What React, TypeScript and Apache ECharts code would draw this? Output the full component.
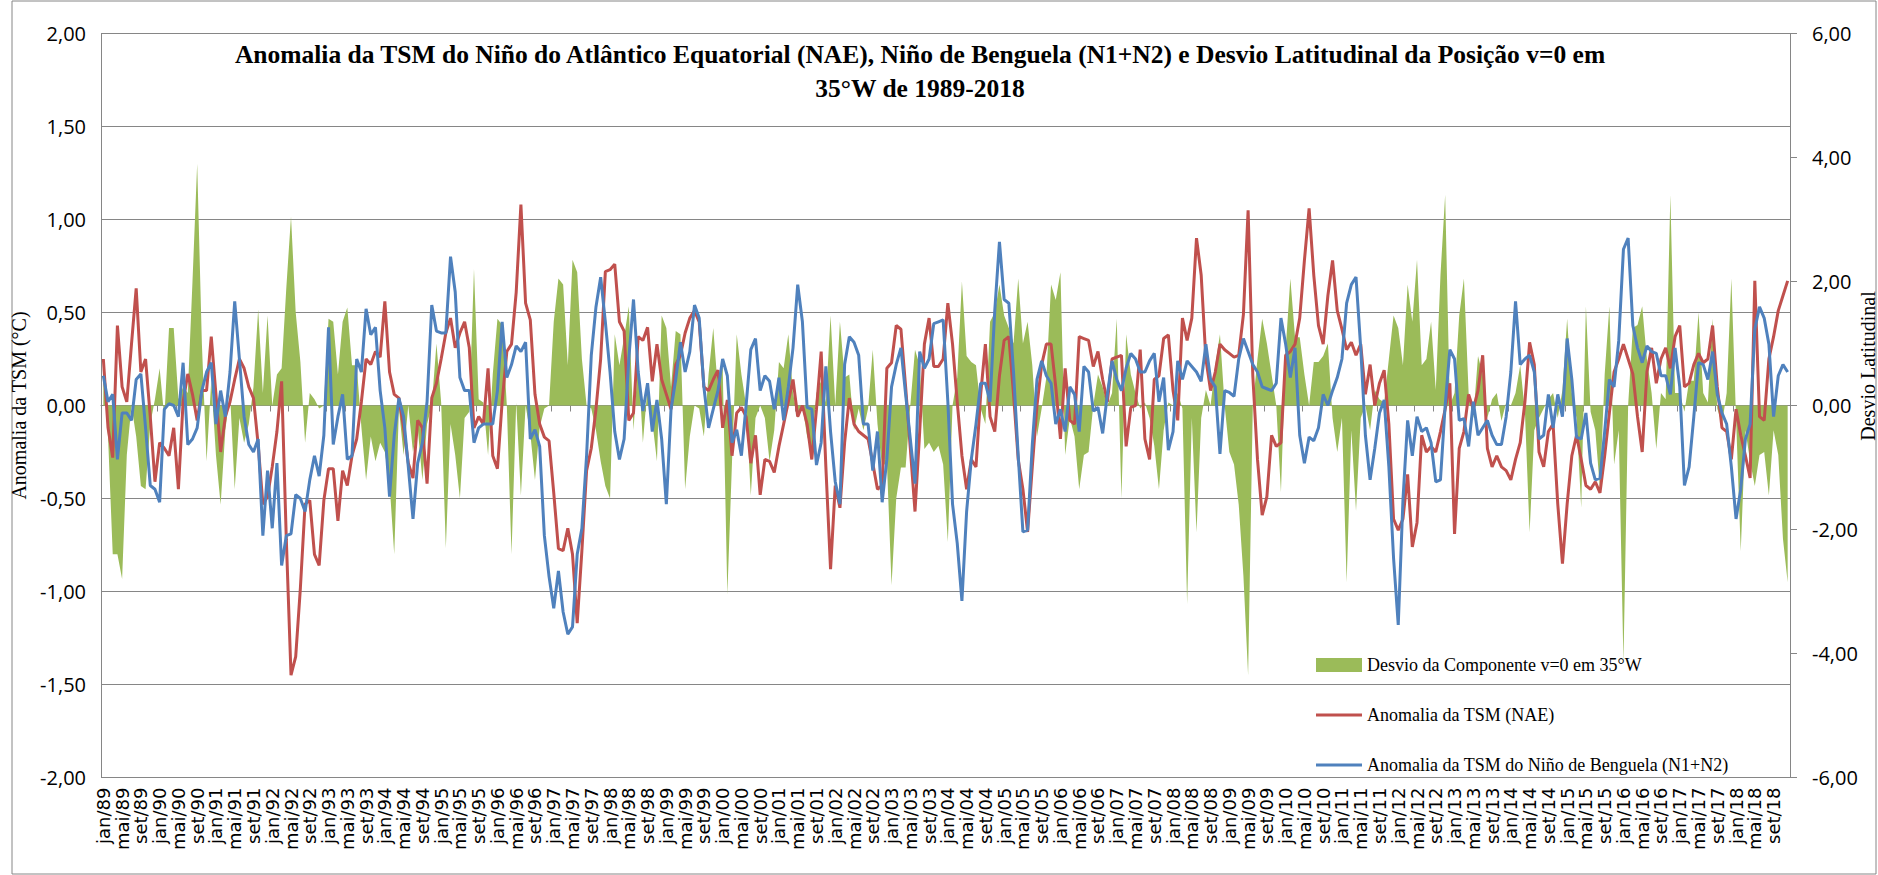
import React, { useEffect, useRef } from "react";
import * as echarts from "echarts";

const MONTHS = ["jan", "fev", "mar", "abr", "mai", "jun", "jul", "ago", "set", "out", "nov", "dez"];
const FIRST_YEAR = 1989;
const LAST_YEAR = 2018;

const CATEGORIES: string[] = [];
for (let y = FIRST_YEAR; y <= LAST_YEAR; y++) {
  for (const m of MONTHS) CATEGORIES.push(m + "/" + String(y % 100).padStart(2, "0"));
}

const TITLE_LINES = [
  "Anomalia da TSM do Niño do Atlântico Equatorial (NAE), Niño de Benguela (N1+N2) e Desvio Latitudinal da Posição v=0 em",
  "35°W de 1989-2018",
];

const LEFT_AXIS_NAME = "Anomalia da TSM (°C)";
const RIGHT_AXIS_NAME = "Desvio Latitudinal";

const SERIES_NAMES = [
  "Desvio da Componente v=0 em 35°W",
  "Anomalia da TSM (NAE)",
  "Anomalia da TSM do Niño de Benguela (N1+N2)",
];

// Anomalia da TSM (NAE) - left axis, °C
const NAE = [
  0.25, -0.12, -0.28, 0.43, 0.10, 0.02, 0.33, 0.63, 0.18, 0.25,
  -0.06, -0.41, -0.20, -0.23, -0.27, -0.12, -0.45, 0.02, 0.17, 0.06,
  -0.08, 0.08, 0.08, 0.37, 0.06, -0.25, -0.06, 0.02, 0.14, 0.25,
  0.20, 0.10, 0.04, -0.21, -0.53, -0.49, -0.33, -0.14, 0.13, -0.72,
  -1.45, -1.35,
  -0.98, -0.53, -0.51, -0.80, -0.86, -0.51, -0.34, -0.34, -0.62, -0.35,
  -0.43, -0.27, -0.18, 0.02, 0.25, 0.22, 0.29, 0.26, 0.56, 0.18,
  0.06, 0.04, -0.12, -0.31, -0.39, -0.08, -0.12, -0.42, 0.04, 0.12,
  0.25, 0.39, 0.47, 0.31, 0.39, 0.45, 0.31, -0.12, -0.06, -0.10,
  0.20,
  -0.27, -0.34, 0.02, 0.29, 0.33, 0.61, 1.08, 0.55, 0.46, 0.06,
  -0.10, -0.17, -0.19, -0.47, -0.77, -0.78, -0.66, -0.80, -1.17, -0.78,
  -0.35, -0.23, -0.02, 0.25, 0.72, 0.73, 0.76, 0.45, 0.40, -0.08,
  -0.04, 0.37, 0.35, 0.42, 0.13, 0.33, 0.14, 0.06, -0.02, 0.22,
  0.27, 0.39, 0.47, 0.51, 0.45, 0.10, 0.08, 0.14, 0.19, -0.12,
  0.03, -0.27, -0.04, -0.01, -0.06, -0.31, -0.16, -0.48, -0.29, -0.30,
  -0.36, -0.22, -0.10, 0.02, 0.14, -0.06, 0.00, -0.10, -0.29, -0.02,
  0.29, -0.33, -0.88, -0.43, -0.55, -0.20, 0.04, -0.10, -0.14,
  -0.16, -0.18, -0.31, -0.45, -0.43, 0.20, 0.23, 0.43, 0.41, 0.10,
  -0.23, -0.57, -0.14, 0.33, 0.47, 0.21, 0.21, 0.25, 0.55, 0.33,
  0.02, -0.27, -0.45, -0.29, -0.33, 0.06, 0.33, -0.06, -0.14, 0.16,
  0.35, 0.37, 0.06, -0.29, -0.45, -0.68, -0.33, 0.00, 0.22, 0.33,
  0.33, 0.10, -0.18, 0.20, -0.08, -0.10, 0.37, 0.36, 0.35, 0.21,
  0.29, 0.14, 0.02, 0.25, 0.26, 0.27, -0.22, -0.01, 0.00, 0.30,
  -0.18, -0.29, 0.14, 0.16, 0.36, 0.38, 0.08, -0.08, 0.47, 0.35,
  0.47, 0.90, 0.70, 0.25, 0.08, 0.18, 0.33, 0.30, 0.28, 0.26, 0.27,
  0.49, 1.05, 0.16, -0.29, -0.59, -0.49, -0.16, -0.22, -0.20, 0.27,
  0.29, 0.33, 0.47, 0.78, 1.06, 0.70, 0.43, 0.33, 0.59, 0.78,
  0.51, 0.41, 0.30, 0.34, 0.27, 0.33, 0.06, 0.22, 0.00, 0.12,
  0.19, -0.10, -0.61, -0.67, -0.61, -0.37, -0.76, -0.63, -0.16, -0.25,
  -0.22, -0.25, -0.14, -0.02, 0.12, -0.69, -0.23, -0.14, 0.06, -0.02,
  0.08, 0.27, -0.23, -0.33, -0.27, -0.33, -0.35, -0.40, -0.29, -0.20,
  0.02, 0.34, 0.22, -0.25, -0.33, -0.14, -0.10, -0.53, -0.85, -0.53,
  -0.27, -0.16, -0.29, -0.43, -0.45, -0.41, -0.47, -0.27, -0.04, 0.18, 0.25,
  0.33, 0.25, 0.17, -0.06, -0.25, 0.18, 0.31, 0.12, 0.25, 0.31,
  0.20, 0.37, 0.43, 0.10, 0.12, 0.22, 0.28, 0.23, 0.25, 0.43,
  0.10, -0.12, -0.14, -0.29, -0.02, -0.16, -0.27, -0.39, 0.67, -0.06,
  -0.08, 0.25, 0.37, 0.51, 0.59, 0.67,
];

// Anomalia da TSM do Niño de Benguela (N1+N2) - left axis, °C
const BENGUELA = [
  0.16, 0.02, 0.06, -0.29, -0.04, -0.04, -0.08, 0.14, 0.17, -0.12,
  -0.43, -0.45, -0.52, -0.02, 0.01, 0.00, -0.06, 0.23, -0.21, -0.18,
  -0.12, 0.08, 0.18, 0.23, -0.10, 0.08, -0.06, 0.18, 0.56, 0.25,
  -0.06, -0.21, -0.25, -0.18, -0.70, -0.35, -0.66, -0.31, -0.86, -0.70,
  -0.69, -0.48,
  -0.50, -0.57, -0.40, -0.27, -0.38, -0.16, 0.42, -0.21, -0.06, 0.06,
  -0.29, -0.27, 0.25, 0.18, 0.52, 0.38, 0.42, 0.08, -0.12, -0.49,
  -0.16, 0.04, -0.06, -0.33, -0.61, -0.31, -0.20, 0.02, 0.54, 0.40,
  0.39, 0.39, 0.80, 0.61, 0.15, 0.08, 0.08, -0.20, -0.12, -0.10,
  -0.10,
  -0.10, 0.08, 0.45, 0.15, 0.22, 0.32, 0.29, 0.34, -0.18, -0.13,
  -0.22, -0.70, -0.92, -1.09, -0.89, -1.11, -1.23, -1.19, -0.80, -0.66,
  -0.27, 0.27, 0.53, 0.69, 0.45, 0.18, -0.14, -0.29, -0.18, 0.25,
  0.57, 0.18, -0.03, 0.12, -0.14, 0.03, -0.18, -0.53, -0.02, 0.14,
  0.34, 0.18, 0.29, 0.54, 0.47, 0.10, -0.12, -0.02, 0.08, 0.25,
  0.16, -0.20, -0.13, -0.27, 0.00, 0.30, 0.36, 0.08, 0.16, 0.13,
  -0.02, 0.15, -0.08, 0.10, 0.31, 0.65, 0.45, -0.01, -0.02, -0.32,
  -0.20, 0.21, -0.14, -0.41, -0.53, 0.22, 0.37, 0.34, 0.27,
  -0.10, -0.10, -0.35, -0.14, -0.52, -0.29, 0.10, 0.22, 0.31, 0.06,
  -0.18, -0.42, 0.29, 0.20, 0.25, 0.44, 0.45, 0.46, 0.02, -0.53,
  -0.74, -1.05, -0.57, -0.29, -0.10, 0.12, 0.12, 0.02, 0.51, 0.88,
  0.57, 0.55, 0.18, -0.27, -0.68, -0.67, -0.21, 0.14, 0.24, 0.16,
  0.12, -0.10, -0.02, -0.14, 0.10, 0.06, -0.14, 0.21, 0.18, -0.03,
  -0.01, -0.15, 0.06, 0.24, 0.14, 0.08, 0.20, 0.28, 0.25, 0.18,
  0.18, 0.24, 0.28, 0.02, 0.15, -0.24, -0.14, 0.24, 0.14, 0.24,
  0.21, 0.18, 0.13, 0.33, 0.14, 0.10, -0.26, 0.08, 0.07, 0.05,
  0.25,
  0.36, 0.29, 0.22, 0.18, 0.10, 0.09, 0.08, 0.12, 0.47, 0.33,
  0.15, 0.31, -0.16, -0.31, -0.17, -0.19, -0.12, 0.06, 0.00, 0.08,
  0.15, 0.25, 0.55, 0.65, 0.69, 0.31, -0.16, -0.40, -0.23, -0.04,
  0.03, -0.33, -0.82, -1.18, -0.51, -0.08, -0.27, -0.06, -0.14, -0.12,
  -0.20, -0.41, -0.40, 0.00, 0.30, 0.25, -0.08, -0.07, -0.22, 0.02,
  -0.16, -0.12, -0.08, -0.16, -0.21, -0.21, -0.06, 0.18, 0.56, 0.22,
  0.25, 0.27, 0.18, -0.18, -0.16, 0.06, -0.12, 0.06, -0.06, 0.36,
  0.14, -0.17, -0.18, -0.04, -0.31, -0.40, -0.39, -0.14, 0.14, 0.10,
  0.35,
  0.84, 0.90, 0.43, 0.31, 0.23, 0.32, 0.29, 0.28, 0.16, 0.16,
  0.06, 0.31, 0.10, -0.43, -0.33, -0.06, 0.23, 0.22, 0.14, 0.29,
  0.06, -0.04, -0.10, -0.33, -0.61, -0.45, -0.18, -0.10, 0.41, 0.53,
  0.47, 0.33, -0.06, 0.16, 0.22, 0.18,
];

// Desvio latitudinal da componente v=0 em 35°W - right axis
const DESVIO = [
  0.6, -0.5, -2.4, -2.4, -2.8, -0.8, 0.0, -0.5, -1.3, -1.35,
  -0.3, 0.1, 0.6, -0.2, 1.25, 1.25, 0.1, 0.3, 0.2, 2.0,
  3.9, 1.0, -0.9, 0.4, -0.8, -1.6, -0.4, 0.2, -1.35, -0.2,
  -0.6, -0.3, 0.3, 1.55, 0.2, 1.45, 0.0, 0.5, 0.6, 1.9,
  3.05, 1.5,
  0.7, -0.6, 0.2, 0.1, -0.05, 0.0, 1.4, 1.35, 0.5, 1.35,
  1.58, 0.65, 0.65, -0.35, -1.2, -0.5, -0.9, -0.6, -0.75, -1.25,
  -2.4, -0.05, -0.8, 0.0, -0.75, -0.35, -1.2, -0.3, 0.0, 1.0,
  0.05, -2.3, -0.3, -0.8, -1.5, -0.2, -0.1, 2.2, 0.1, 0.05,
  -0.8,
  0.5, 1.4, 1.3, 0.0, -2.4, 0.05, -1.45, 0.0, -0.45, -1.2,
  -0.35, -0.05, 0.0, 1.35, 2.05, 1.95, 0.65, 2.35, 2.15, 0.75,
  0.0, -0.05, -0.4, -0.9, -1.3, -1.5, 1.15, 0.65, 1.1, 1.6,
  -0.4, 0.75, -0.6, 0.3, -0.25, -0.9, 1.45, 1.25, 0.3, 1.2,
  1.15, -1.35, -0.5, 0.0, -0.05, -0.5, 0.5, 1.25, 0.25, 0.65,
  -3.05, -0.9, 1.15, 0.5, 0.0, -1.45, -0.2, 0.0, -0.2, -0.9,
  -0.4, 0.7, 0.6, 1.15, 0.2, -0.2, 0.0, -0.5, -0.7, 0.2,
  0.4, 0.05, 1.45, 0.0, 1.35, 0.45, 0.5, -0.4, -0.05,
  -0.4, -0.05, 0.9, -0.3, -1.0, -0.9, -2.9, -1.5, -1.0, -1.0,
  0.0, 0.9, 0.65, -0.7, -0.6, -0.75, -0.65, -0.95, -2.2, 0.0,
  0.45, 2.0, 0.8, 0.7, 0.65, -0.05, -0.3, 1.35, 1.5, 1.95,
  1.45, 1.25, 1.0, 2.05, 1.0, 1.35, 0.65, -0.5, -0.05, 0.45,
  1.95, 1.7, 2.15, -0.8, -0.2, -0.5, -1.35, -0.8, -0.75, 0.0,
  0.5, 0.3, 0.0, 0.2, 1.4, -1.5, 1.15, 0.5, 0.2, -0.05,
  0.05, -0.2, -0.65, -1.35, -0.4, 0.05, 0.0, 0.2, -0.05, -3.2,
  -0.2, -2.05, -0.2, 0.25, 0.0, 0.65, 1.15, 0.0, -0.75, -0.95,
  -1.6,
  -2.75, -4.35, 0.0, 0.75, 1.4, 1.0, 0.5, 0.0, -1.4, 0.9,
  2.05, 1.1, 1.1, 0.5, 0.0, 0.7, 0.7, 0.8, 1.0, -0.2,
  -0.75, -0.2, -2.85, -0.4, -1.7, -0.2, 0.0, -0.4, 0.25, 0.1,
  0.05, 0.75, 1.45, 1.25, 0.65, 1.95, 1.35, 2.35, 0.65, 0.75,
  1.35, 0.25, 2.1, 3.4, 0.0, 0.2, 1.45, 2.05, 0.2, -0.2,
  0.8, 0.5, -0.2, 0.1, 0.2, -0.25, 0.05, 0.0, 0.2, 0.65,
  -0.1, -2.05, -0.4, -0.2, -0.05, 0.1, 0.2, -0.2, 0.25, 1.4,
  0.2, -0.2, -1.65, 1.6, -0.1, -0.4, -1.35, 0.5, 1.6, -0.95,
  -0.4,
  -4.15, 0.0, 1.25, 1.3, 1.6, 0.75, 0.2, -0.7, 0.2, 0.1,
  3.4, 0.2, 0.2, -0.1, 0.4, 0.4, 1.5, 0.2, 0.05, 1.4,
  -0.05, -0.3, 0.2, 2.05, -0.2, -2.35, -0.4, -0.9, -1.3, -0.8,
  -0.75, -1.45, -0.4, -0.8, -2.15, -2.85,
];

const GREEN = "#9BBB59";
const RED = "#C0504D";
const BLUE = "#4F81BD";
const AXIS_GRAY = "#868686";
const LINE_ICON = "path://M0,0L0.01,0M0,5.5H46V8.5H0ZM46,14L45.99,14";

const fmt = (v: number) => v.toFixed(2).replace(".", ",");

export default function App() {
  const ref = useRef<HTMLDivElement>(null);

  useEffect(() => {
    if (!ref.current) return;
    const chart = echarts.init(ref.current, undefined, { renderer: "svg" });
    const option: any = {
      animation: false,
      backgroundColor: "#ffffff",
      grid: { left: 101, right: 88, top: 33.5, bottom: 97.5, containLabel: false },
      graphic: [
        {
          type: "rect",
          shape: { x: 12, y: 1, width: 1864, height: 873 },
          style: { fill: "none", stroke: AXIS_GRAY, lineWidth: 1 },
          silent: true,
          z: -10,
        },
        {
          type: "text",
          x: 920,
          y: 54,
          style: {
            text: TITLE_LINES[0],
            textAlign: "center",
            textVerticalAlign: "middle",
            fontFamily: "Liberation Serif",
            fontWeight: "bold",
            fontSize: 25.5,
            fill: "#000",
          },
        },
        {
          type: "text",
          x: 920,
          y: 88,
          style: {
            text: TITLE_LINES[1],
            textAlign: "center",
            textVerticalAlign: "middle",
            fontFamily: "Liberation Serif",
            fontWeight: "bold",
            fontSize: 25.5,
            fill: "#000",
          },
        },
        {
          type: "text",
          x: 1868,
          y: 366,
          rotation: Math.PI / 2,
          style: {
            text: RIGHT_AXIS_NAME,
            textAlign: "center",
            textVerticalAlign: "middle",
            fontFamily: "Liberation Serif",
            fontSize: 20,
            fill: "#000",
          },
        },
      ],
      legend: {
        orient: "vertical",
        left: 1311,
        top: 650,
        itemWidth: 46,
        itemHeight: 14,
        itemGap: 30,
        data: [
          { name: SERIES_NAMES[0], icon: "rect" },
          { name: SERIES_NAMES[1], icon: LINE_ICON },
          { name: SERIES_NAMES[2], icon: LINE_ICON },
        ],
        textStyle: { fontFamily: "Liberation Serif", fontSize: 18, color: "#000", lineHeight: 20 },
      },
      xAxis: {
        type: "category",
        data: CATEGORIES,
        boundaryGap: true,
        axisLine: { show: true, lineStyle: { color: AXIS_GRAY, width: 1 } },
        axisTick: { show: true, interval: 3, length: 6, lineStyle: { color: AXIS_GRAY } },
        axisLabel: {
          interval: 3,
          rotate: 90,
          margin: 10,
          showMinLabel: true,
          hideOverlap: false,
          fontFamily: "DejaVu Sans",
          fontSize: 18,
          lineHeight: 14,
          color: "#000",
        },
        splitLine: { show: false },
      },
      yAxis: [
        {
          type: "value",
          min: -2,
          max: 2,
          interval: 0.5,
          position: "left",
          name: LEFT_AXIS_NAME,
          nameLocation: "middle",
          nameRotate: 90,
          nameGap: 70,
          nameTextStyle: { fontFamily: "Liberation Serif", fontSize: 20, color: "#000" },
          axisLine: { show: true, lineStyle: { color: AXIS_GRAY } },
          axisTick: { show: false },
          axisLabel: { formatter: fmt, margin: 15, fontFamily: "Open Sans", fontSize: 20, color: "#000" },
          splitLine: { show: true, lineStyle: { color: AXIS_GRAY, width: 1 } },
        },
        {
          type: "value",
          min: -6,
          max: 6,
          interval: 2,
          position: "right",
          axisLine: { show: true, lineStyle: { color: AXIS_GRAY } },
          axisTick: { show: true, length: 7, lineStyle: { color: AXIS_GRAY } },
          axisLabel: { formatter: fmt, margin: 22, fontFamily: "Open Sans", fontSize: 20, color: "#000" },
          splitLine: { show: false },
        },
      ],
      series: [
        {
          name: SERIES_NAMES[0],
          type: "line",
          yAxisIndex: 1,
          data: DESVIO,
          symbol: "none",
          lineStyle: { width: 0, color: GREEN },
          itemStyle: { color: GREEN },
          areaStyle: { color: GREEN, opacity: 1 },
          z: 1,
        },
        {
          name: SERIES_NAMES[1],
          type: "line",
          yAxisIndex: 0,
          data: NAE,
          symbol: "none",
          lineStyle: { width: 3, color: RED },
          itemStyle: { color: RED },
          z: 2,
        },
        {
          name: SERIES_NAMES[2],
          type: "line",
          yAxisIndex: 0,
          data: BENGUELA,
          symbol: "none",
          lineStyle: { width: 3, color: BLUE },
          itemStyle: { color: BLUE },
          z: 3,
        },
      ],
    };
    chart.setOption(option);
    return () => chart.dispose();
  }, []);

  return (
    <div
      ref={ref}
      style={{ position: "fixed", left: 0, top: 0, width: 1878, height: 875, background: "#fff" }}
    />
  );
}
